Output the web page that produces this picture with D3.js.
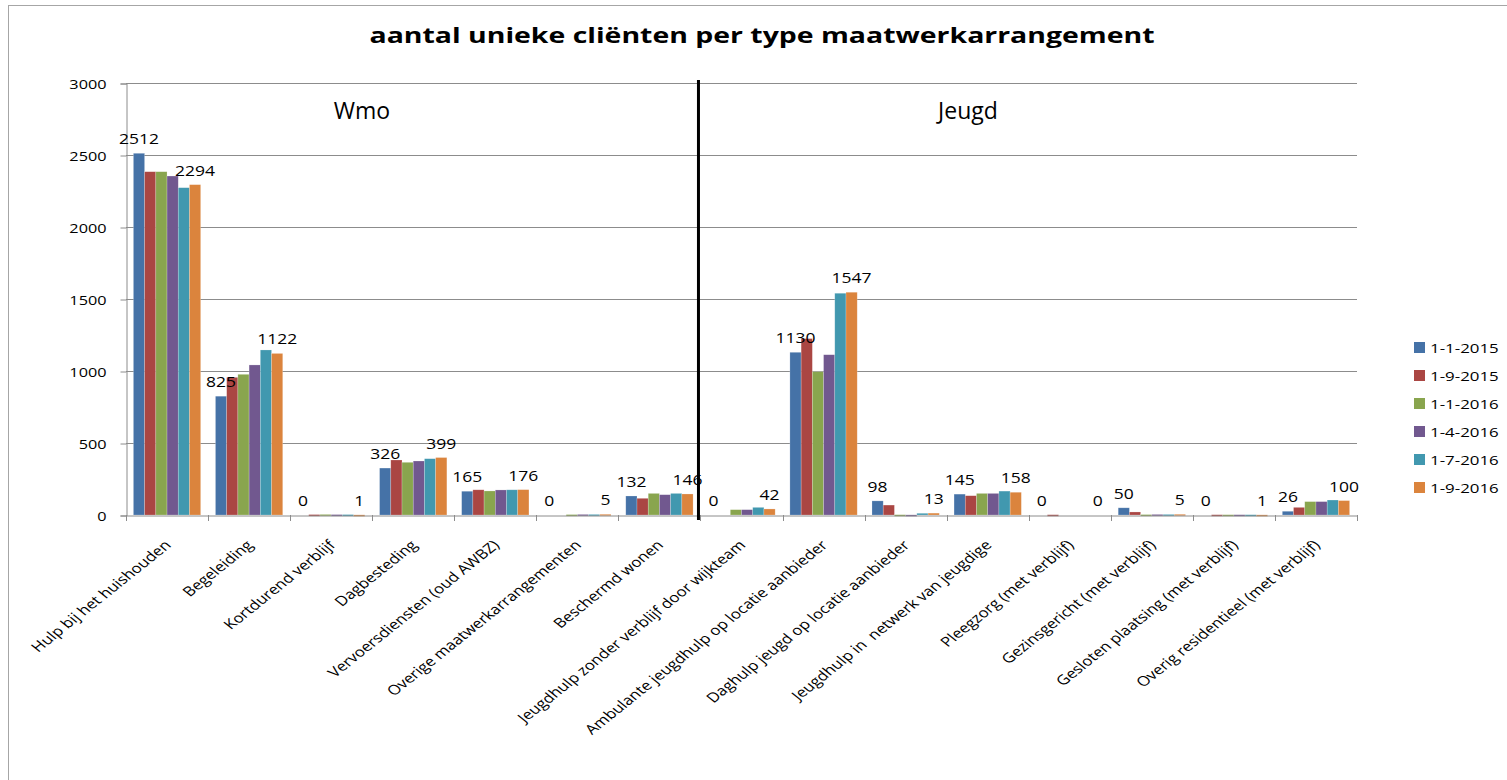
<!DOCTYPE html>
<html>
<head>
<meta charset="utf-8">
<script src="https://cdn.jsdelivr.net/npm/d3@7"></script>
<style>
  body { margin: 0; background: #fff; }
  svg { display: block; font-family: 'Open Sans', sans-serif; }
</style>
</head>
<body>
<svg id="chart" width="1507" height="780"></svg>
<script>
const categories = ['Hulp bij het huishouden', 'Begeleiding', 'Kortdurend verblijf', 'Dagbesteding',
  'Vervoersdiensten (oud AWBZ)', 'Overige maatwerkarrangementen', 'Beschermd wonen',
  'Jeugdhulp zonder verblijf door wijkteam', 'Ambulante jeugdhulp op locatie aanbieder',
  'Daghulp jeugd op locatie aanbieder', 'Jeugdhulp in  netwerk van jeugdige', 'Pleegzorg (met verblijf)',
  'Gezinsgericht (met verblijf)', 'Gesloten plaatsing (met verblijf)', 'Overig residentieel (met verblijf)'];
const series = ['1-1-2015', '1-9-2015', '1-1-2016', '1-4-2016', '1-7-2016', '1-9-2016'];
const kleuren = ['#4572A7', '#AA4643', '#89A54E', '#71588F', '#4198AF', '#DB843D'];

const v2015jan = [2512, 825, 0, 326, 165, 0, 132, 0, 1130, 98, 145, 0, 50, 0, 26];
const v2015sep = [2384, 956, 3, 382, 175, 0, 116, 0, 1225, 69, 134, 2, 21, 2, 53];
const v2016jan = [2384, 977, 4, 366, 167, 3, 150, 37, 995, 2, 150, 0, 3, 2, 93];
const v2016apr = [2354, 1042, 3, 375, 174, 4, 141, 37, 1113, 1, 150, 0, 4, 2, 93];
const v2016jul = [2273, 1146, 3, 391, 175, 4, 150, 53, 1540, 12, 166, 0, 4, 2, 104];
const v2016sep = [2294, 1122, 1, 399, 176, 5, 146, 42, 1547, 13, 158, 0, 5, 1, 100];
const yTicks = [0, 500, 1000, 1500, 2000, 2500, 3000];
const groepen = [{naam: 'Wmo', van: 0, tot: 7}, {naam: 'Jeugd', van: 7, tot: 15}];

const waarden = [v2015jan, v2015sep, v2016jan, v2016apr, v2016jul, v2016sep];

const svg = d3.select('#chart');
const rek = 1.25; // het origineel is horizontaal uitgerekt

// rand om de hele grafiek
svg.append('rect').attr('x', 8.5).attr('y', 5.5).attr('width', 1510).attr('height', 800)
  .attr('fill', 'none').attr('stroke', '#a6a6a6').attr('stroke-width', 1);

const pLeft = 126, pRight = 1357, pTop = 83, pBottom = 515;

let x0 = d3.scaleBand().domain(categories).range([pLeft, pRight]).paddingInner(0.18).paddingOuter(0.09);
let x1 = d3.scaleBand().domain(series).range([0, x0.bandwidth()]);
let y = d3.scaleLinear().domain([0, 3000]).range([pBottom, pTop]);

// rasterlijnen
svg.append('g').selectAll('line').data(yTicks.slice(1)).enter()
  .append('line')
  .attr('x1', pLeft).attr('x2', pRight)
  .attr('y1', d => y(d) + 0.5).attr('y2', d => y(d) + 0.5)
  .attr('stroke', '#8c8c8c').attr('stroke-width', 1);

// y-as
let yAxis = d3.axisLeft(y).tickValues(yTicks).tickSize(6).tickFormat(d3.format('d'));
let gy = svg.append('g').attr('transform', 'translate(' + (pLeft + 0.5) + ',0.5)').call(yAxis);
gy.select('.domain').attr('stroke', '#8c8c8c');
gy.selectAll('.tick line').attr('stroke', '#8c8c8c');
gy.selectAll('text')
  .attr('x', null).attr('dy', '0.35em')
  .attr('transform', 'translate(-20,0) scale(' + rek + ',1)')
  .style('font-size', '13px').style('font-family', 'Open Sans').attr('fill', '#000');

// staven
let groups = svg.append('g').selectAll('g').data(categories).enter()
  .append('g').attr('transform', d => 'translate(' + x0(d) + ',0)');

groups.selectAll('rect')
  .data((c, ci) => series.map((s, si) => ({s: s, si: si, v: waarden[si][ci]})))
  .enter().append('rect')
  .attr('x', d => x1(d.s))
  .attr('y', d => y(d.v))
  .attr('width', x1.bandwidth())
  .attr('height', d => Math.max(y(0) - y(d.v), d.v > 0 ? 1.5 : 0))
  .attr('fill', d => kleuren[d.si])
  .attr('stroke', '#fff').attr('stroke-opacity', 0.35).attr('stroke-width', 0.6);

// x-as
let xAxis = d3.axisBottom(x0).tickSize(0).tickFormat('');
let gx = svg.append('g').attr('transform', 'translate(0,' + (pBottom + 0.5) + ')').call(xAxis);
gx.select('.domain').attr('stroke', '#8c8c8c');
let grens = d3.range(categories.length + 1).map(i => pLeft + i * (pRight - pLeft) / categories.length);
svg.append('g').selectAll('line').data(grens).enter().append('line')
  .attr('x1', d => Math.round(d) + 0.5).attr('x2', d => Math.round(d) + 0.5)
  .attr('y1', pBottom).attr('y2', pBottom + 6)
  .attr('stroke', '#8c8c8c');

// categorielabels schuin (uitgerekt zoals het origineel)
svg.append('g').selectAll('text').data(categories).enter()
  .append('text')
  .attr('transform', d => 'translate(' + (x0(d) + x0.bandwidth() / 2 + 5) + ',' + (pBottom + 31) + ') scale(' + rek + ',1) rotate(-45)')
  .style('text-anchor', 'end')
  .style('font-size', '13.5px')
  .style('font-family', 'Open Sans')
  .style('white-space', 'pre')
  .attr('fill', '#000')
  .text(d => d);

// datalabels voor eerste en laatste serie
[0, 5].forEach(si => {
  svg.append('g').selectAll('text').data(categories).enter()
    .append('text')
    .attr('transform', (d, ci) => 'translate(' + (x0(d) + x1(series[si]) + x1.bandwidth() / 2) + ',' + (y(waarden[si][ci]) - 9) + ') scale(' + rek + ',1)')
    .style('text-anchor', 'middle')
    .style('font-size', '14px')
    .style('font-family', 'Open Sans')
    .attr('fill', '#000')
    .text((d, ci) => waarden[si][ci]);
});

// scheidingslijn Wmo / Jeugd
let scheiding = pLeft + 7 * (pRight - pLeft) / categories.length - 2;
svg.append('line').attr('x1', scheiding).attr('x2', scheiding)
  .attr('y1', 80).attr('y2', pBottom + 5)
  .attr('stroke', '#000').attr('stroke-width', 3);

// groepnamen
svg.append('g').selectAll('text').data(groepen).enter()
  .append('text')
  .attr('x', d => d.naam == 'Wmo' ? 362 : 968)
  .attr('y', 119)
  .style('text-anchor', 'middle')
  .style('font-size', '23px')
  .style('font-family', 'Open Sans')
  .text(d => d.naam);

// titel
svg.append('text')
  .attr('x', 762).attr('y', 43)
  .attr('textLength', 785).attr('lengthAdjust', 'spacingAndGlyphs')
  .style('text-anchor', 'middle')
  .style('font-size', '22px')
  .style('font-weight', 'bold')
  .style('font-family', 'Open Sans')
  .text('aantal unieke cliënten per type maatwerkarrangement');

// legenda
let legend = svg.append('g').attr('transform', 'translate(1414,342)');
series.forEach((s, i) => {
  legend.append('rect').attr('x', 0).attr('y', i * 28).attr('width', 11).attr('height', 11).attr('fill', kleuren[i]);
  legend.append('text').attr('transform', 'translate(16,' + (i * 28 + 11) + ') scale(' + rek + ',1)')
    .style('font-size', '13.5px').style('font-family', 'Open Sans').text(s);
});
</script>
</body>
</html>
